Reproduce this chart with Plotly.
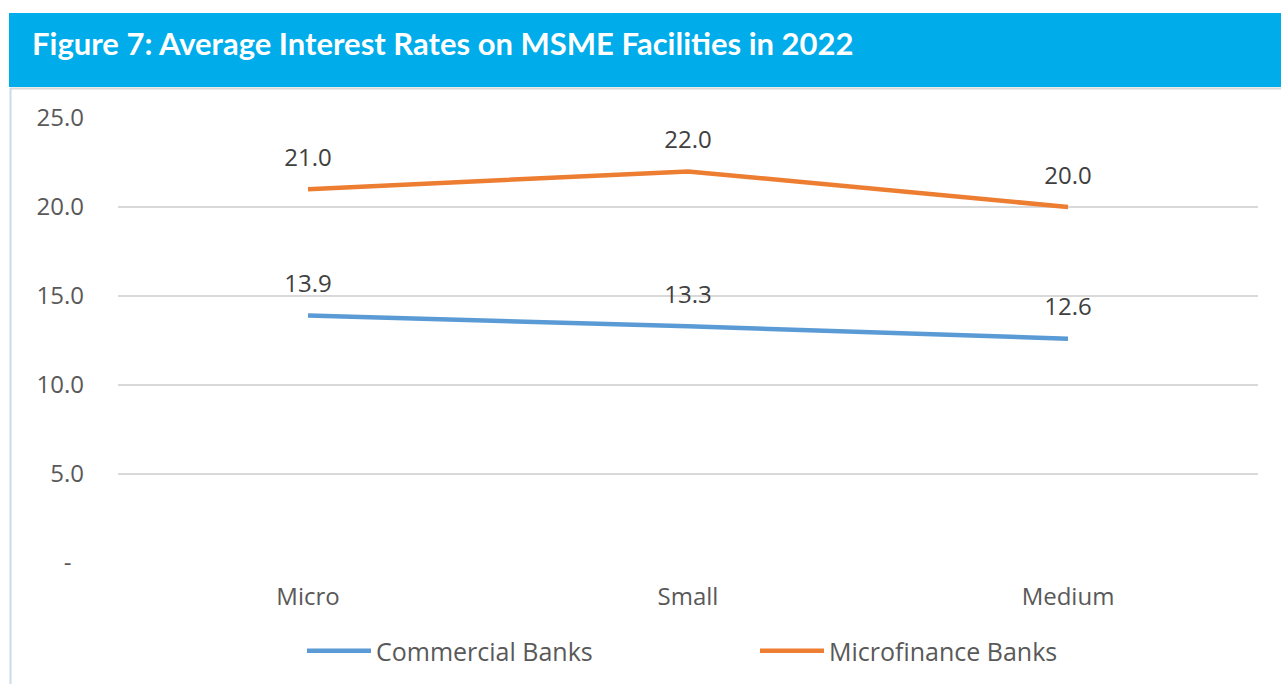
import plotly.graph_objects as go

categories = ["Micro", "Small", "Medium"]
commercial = [13.9, 13.3, 12.6]
microfinance = [21.0, 22.0, 20.0]
tick_vals = [0, 5, 10, 15, 20, 25]
tick_text = ["-\u00a0\u00a0", "5.0", "10.0", "15.0", "20.0", "25.0"]
title_text = "Figure 7: Average Interest Rates on MSME Facilities in 2022"

W, H = 1281, 684
L, R, T, B = 118, 23, 118, 121
pw, ph = W - L - R, H - T - B

def px_x(p):
    return (p - L) / pw

def px_y(p):
    return (H - B - p) / ph

FONT = "Open Sans"
fig = go.Figure()
for name, vals, color in [("Commercial Banks", commercial, "#5B9BD5"),
                          ("Microfinance Banks", microfinance, "#ED7D31")]:
    fig.add_trace(go.Scatter(
        x=categories, y=vals, mode="lines+markers+text", name=name,
        line=dict(color=color, width=4.5),
        marker=dict(size=26, color="rgba(0,0,0,0)", line=dict(width=0)),
        text=[f"{v:.1f}" for v in vals], textposition="top center",
        textfont=dict(size=24, color="#404040", family=FONT),
    ))

shapes = [
    dict(type="rect", xref="paper", yref="paper", x0=px_x(9), x1=px_x(1285),
         y0=px_y(87), y1=px_y(13), fillcolor="#00ADEA", line=dict(width=0), layer="below"),
    dict(type="line", xref="paper", yref="paper", x0=px_x(10), x1=px_x(1285),
         y0=px_y(88.5), y1=px_y(88.5), line=dict(color="#D9D9D9", width=2)),
    dict(type="line", xref="paper", yref="paper", x0=px_x(10.5), x1=px_x(10.5),
         y0=px_y(88), y1=px_y(690), line=dict(color="#C9DCE8", width=2)),
]

fig.update_layout(
    width=W, height=H,
    margin=dict(l=L, r=R, t=T, b=B, pad=0, autoexpand=False),
    paper_bgcolor="white", plot_bgcolor="white",
    shapes=shapes,
    annotations=[dict(text=f"<b>{title_text}</b>", xref="paper", yref="paper",
                      x=px_x(30), y=px_y(43), xanchor="left", yanchor="middle",
                      showarrow=False, font=dict(size=31, color="white", family="Lato"))],
    xaxis=dict(range=[-0.5, 2.5], showgrid=False, zeroline=False, showline=False,
               ticks="", ticklabelstandoff=17,
               tickfont=dict(size=24, color="#595959", family=FONT)),
    yaxis=dict(range=[0, 25], tickvals=tick_vals, ticktext=tick_text,
               showgrid=True, gridcolor="#D9D9D9", gridwidth=2, zeroline=False,
               showline=False, ticks="", ticklabelstandoff=33,
               tickfont=dict(size=24, color="#595959", family=FONT)),
    legend=dict(orientation="h", x=px_x(302), y=px_y(651), xanchor="left", yanchor="middle",
                font=dict(size=25, color="#595959", family=FONT),
                itemwidth=64, entrywidth=374, entrywidthmode="pixels", tracegroupgap=0),
    showlegend=True,
)
fig.write_html("out.html", config={"displayModeBar": False},
               post_script="document.body.style.margin='0';")
